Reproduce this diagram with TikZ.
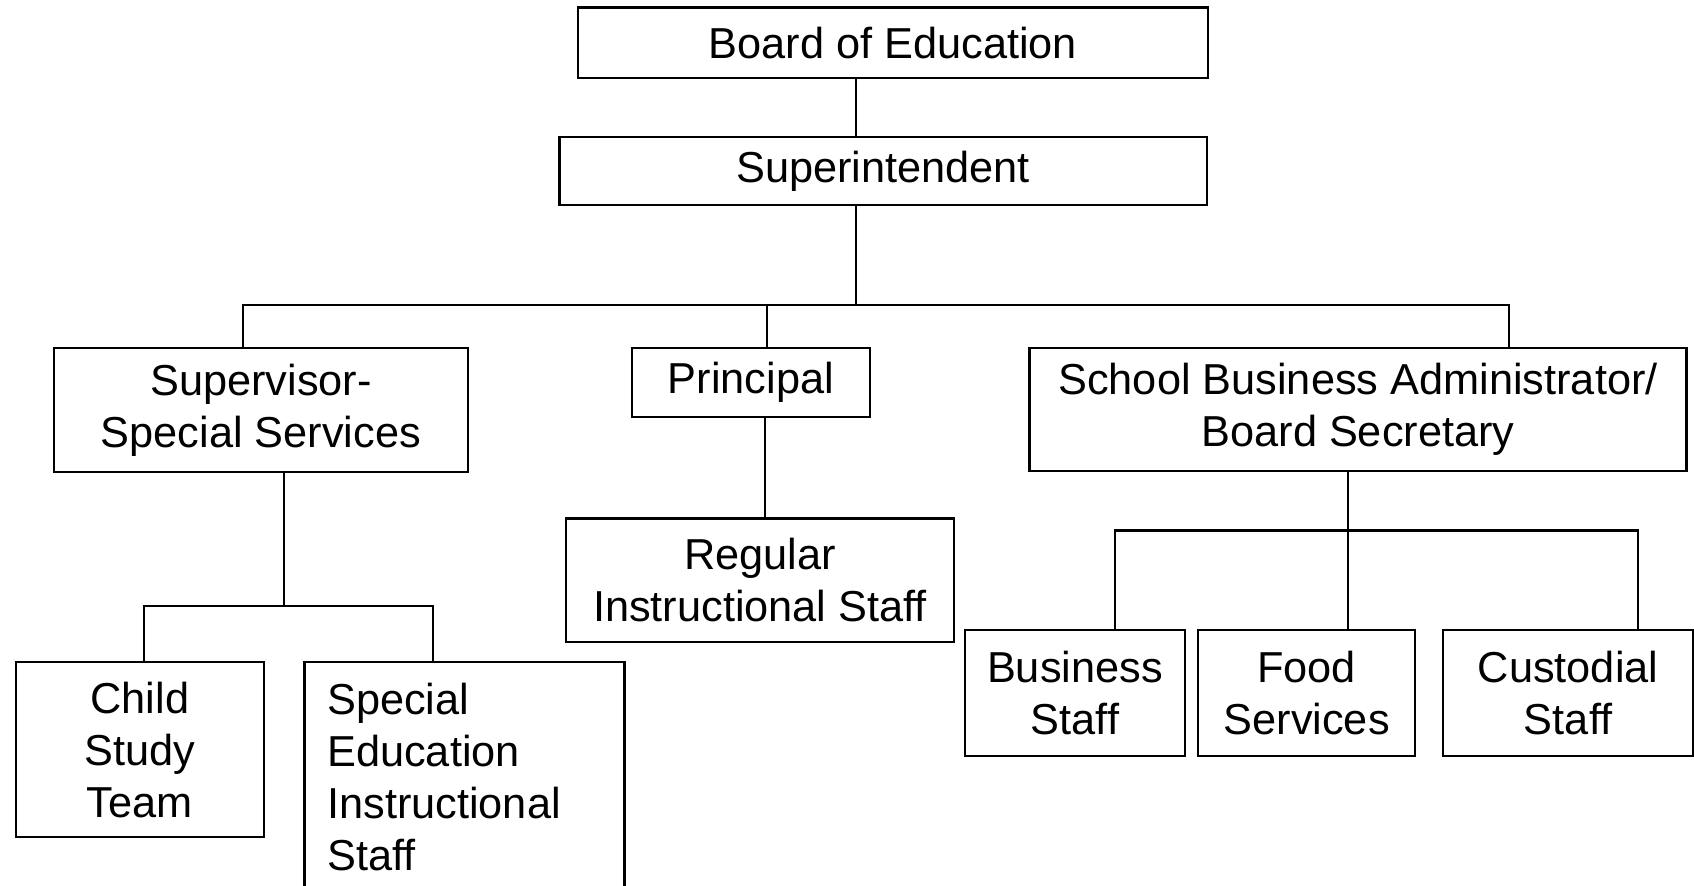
\documentclass[tikz,border=0pt]{standalone}
\usepackage{fontspec}
\setmainfont{Liberation Sans}
\begin{document}
\begin{tikzpicture}[x=.01cm,y=-.01cm,line width=.6pt,
    font=\fontsize{11.4}{13.7}\selectfont,
    box/.style={draw,inner sep=0pt,align=center}]
    \useasboundingbox (0,0) rectangle (1568,820);
    % top of the chart
    \node[box,minimum width=5.83cm,minimum height=.65cm] (board) at (826.5,39.5) {Board of Education};
    \node[box,minimum width=5.99cm,minimum height=.63cm] (supt) at (817.5,158.5) {Superintendent};
    % second row
    \node[box,minimum width=3.83cm,minimum height=1.15cm] (supv) at (241.5,379.5) {Supervisor-\\Special Services};
    \node[box,minimum width=2.20cm,minimum height=.64cm] (princ) at (695,354) {Principal};
    \node[box,minimum width=6.08cm,minimum height=1.14cm] (sba) at (1257,379) {School Business Administrator/\\Board Secretary};
    % third row
    \node[box,minimum width=2.29cm,minimum height=1.62cm] (cst) at (129.5,694) {Child\\Study\\Team};
    \node[box,align=left,text width=2.54cm,inner xsep=.21cm,minimum height=2.13cm] (sped) at (430,719.5) {Special\\Education\\Instructional\\Staff};
    \node[box,minimum width=3.59cm,minimum height=1.14cm] (reg) at (703.5,537) {Regular\\Instructional Staff};
    \node[box,minimum width=2.04cm,minimum height=1.17cm] (bus) at (995,641.5) {Business\\Staff};
    \node[box,minimum width=2.01cm,minimum height=1.17cm] (food) at (1209.5,641.5) {Food\\Services};
    \node[box,minimum width=2.31cm,minimum height=1.17cm] (cust) at (1451.5,641.5) {Custodial\\Staff};
    % junction points
    \coordinate (trunk) at (792,282);
    \coordinate (c1) at (225,282);
    \coordinate (c2) at (710,282);
    \coordinate (c3) at (1397,282);
    \coordinate (c4) at (263,561);
    \coordinate (c5) at (133,561);
    \coordinate (c6) at (401,561);
    \coordinate (c7) at (708,430);
    \coordinate (c8) at (1248,491);
    \coordinate (c9) at (1032,491);
    \coordinate (c10) at (1516,491);
    % connectors
    \draw (board.south -| trunk) -- (supt.north -| trunk);
    \draw (supt.south -| trunk) -- (trunk);
    \draw (c1 |- supv.north) -- (c1) -- (c3) -- (c3 |- sba.north);
    \draw (c2) -- (c2 |- princ.north);
    \draw (c4 |- supv.south) -- (c4);
    \draw (c5 |- cst.north) -- (c5) -- (c6) -- (c6 |- sped.north);
    \draw (c7 |- princ.south) -- (c7 |- reg.north);
    \draw (c8 |- sba.south) -- (c8 |- food.north);
    \draw (c9 |- bus.north) -- (c9) -- (c10) -- (c10 |- cust.north);
\end{tikzpicture}
\end{document}
